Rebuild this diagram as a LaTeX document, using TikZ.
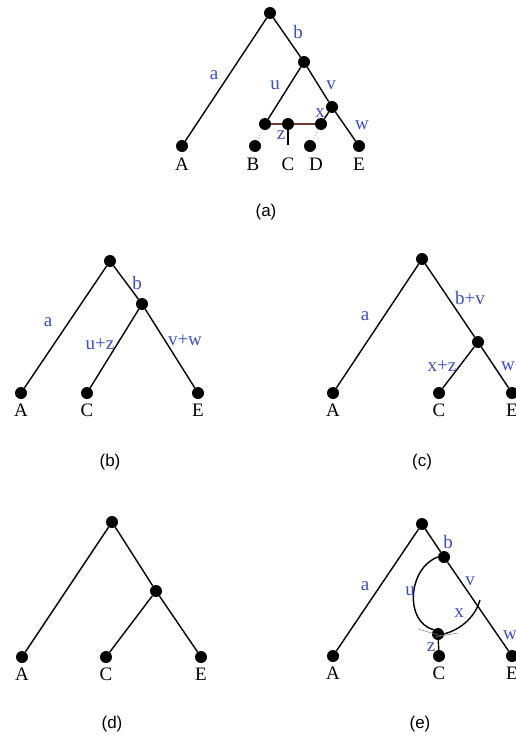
\documentclass[tikz,border=0pt]{standalone}
\usepackage{fontspec}
\setmainfont{Liberation Serif}
\setsansfont{Liberation Sans}
\usepackage{tikz}
\usetikzlibrary{positioning}
\definecolor{edgeblue}{HTML}{3C4EC4}
\definecolor{rust}{HTML}{6E3A2C}
\tikzset{
  dot/.style={circle, fill=black, inner sep=0pt, minimum size=12pt},
  branch/.style={line width=1.4pt, color=black},
  taxon/.style={font=\fontsize{19}{19}\selectfont, inner sep=0pt},
  elabel/.style={font=\fontsize{19}{19}\selectfont, color=edgeblue, inner sep=0pt},
  caption/.style={font=\sffamily\fontsize{17}{17}\selectfont, inner sep=0pt},
}

\begin{document}
\begin{tikzpicture}[x=1pt, y=-1pt]
  \useasboundingbox (0,0) rectangle (516,736);

  % (a) full tree
  \node[dot] (ra) at (270,13) {};
  \node[dot] (pa) at (304,62) {};
  \node[dot] (qa) at (332,107) {};
  \node[dot] (la) at (265,124) {};
  \node[dot] (ma) at (288,124) {};
  \node[dot] (ka) at (321,124) {};
  \node[dot] (Aa) at (182,146) {};
  \node[dot] (Ba) at (255,146) {};
  \coordinate (Ca) at (288,145);
  \node[dot] (Da) at (310,146) {};
  \node[dot] (Ea) at (359,146) {};
  \draw[branch] (ra) -- (Aa);
  \draw[branch] (ra) -- (pa);
  \draw[branch] (pa) -- (la);
  \draw[branch] (pa) -- (qa);
  \draw[branch] (qa) -- (Ea);
  \draw[branch] (qa) -- (ka);
  \draw[line width=1.4pt, rust] (la) -- (ma);
  \draw[line width=1.4pt, rust] (ma) -- (ka);
  \draw[branch] (ma) -- (Ca);
  \draw[gray!60, dotted, line width=1pt] (la) -- (Ba);
  \draw[gray!60, dotted, line width=1pt] (ka) -- (Da);
  \node[taxon] (tAa) at (182,164) {A};
  \node[taxon] (tBa) at (253,164) {B};
  \node[taxon] (tCa) at (288,164) {C};
  \node[taxon] (tDa) at (316,164) {D};
  \node[taxon] (tEa) at (359,164) {E};
  \node[elabel] (lba) at (298,32) {b};
  \node[elabel] (laa) at (214,75) {a};
  \node[elabel] (lua) at (275,85) {u};
  \node[elabel] (lva) at (331,85) {v};
  \node[elabel] (lxa) at (320,113) {x};
  \node[elabel] (lza) at (281,135) {z};
  \node[elabel] (lwa) at (362,125) {w};
  \node[caption] (capa) at (266,212) {(a)};

  % (b)
  \node[dot] (rb) at (110,261) {};
  \node[dot] (pb) at (142,304) {};
  \node[dot] (Ab) at (21,393) {};
  \node[dot] (Cb) at (87,393) {};
  \node[dot] (Eb) at (198,393) {};
  \draw[branch] (rb) -- (Ab);
  \draw[branch] (rb) -- (pb);
  \draw[branch] (pb) -- (Cb);
  \draw[branch] (pb) -- (Eb);
  \node[taxon, below=5pt of Ab] (tAb) {A};
  \node[taxon, below=5pt of Cb] (tCb) {C};
  \node[taxon, below=5pt of Eb] (tEb) {E};
  \node[elabel] (lbb) at (137,283) {b};
  \node[elabel] (lab) at (48,322) {a};
  \node[elabel] (luzb) at (100,344) {u+z};
  \node[elabel] (lvwb) at (185,340) {v+w};
  \node[caption] (capb) at (110,462) {(b)};

  % (c)
  \node[dot] (rc) at (422,259) {};
  \node[dot] (pc) at (478,342) {};
  \node[dot] (Ac) at (333,393) {};
  \node[dot] (Cc) at (439,393) {};
  \node[dot] (Ec) at (512,393) {};
  \draw[branch] (rc) -- (Ac);
  \draw[branch] (rc) -- (pc);
  \draw[branch] (pc) -- (Cc);
  \draw[branch] (pc) -- (Ec);
  \node[taxon, below=5pt of Ac] (tAc) {A};
  \node[taxon, below=5pt of Cc] (tCc) {C};
  \node[taxon, below=5pt of Ec] (tEc) {E};
  \node[elabel] (lac) at (365,316) {a};
  \node[elabel] (lbvc) at (470,298) {b+v};
  \node[elabel] (lxzc) at (442,366) {x+z};
  \node[elabel] (lwc) at (508,366) {w};
  \node[caption] (capc) at (422,462) {(c)};

  % (d)
  \node[dot] (rd) at (112,522) {};
  \node[dot] (pd) at (156,591) {};
  \node[dot] (Ad) at (22,657) {};
  \node[dot] (Cd) at (106,657) {};
  \node[dot] (Ed) at (201,657) {};
  \draw[branch] (rd) -- (Ad);
  \draw[branch] (rd) -- (pd);
  \draw[branch] (pd) -- (Cd);
  \draw[branch] (pd) -- (Ed);
  \node[taxon, below=5pt of Ad] (tAd) {A};
  \node[taxon, below=5pt of Cd] (tCd) {C};
  \node[taxon, below=5pt of Ed] (tEd) {E};
  \node[caption] (capd) at (112,724) {(d)};

  % (e) loop
  \node[dot] (re) at (422,524) {};
  \node[dot] (pe) at (444,557) {};
  \node[dot] (ke) at (438,634) {};
  \node[dot] (Ae) at (333,656) {};
  \node[dot] (Ce) at (439,656) {};
  \node[dot] (Ee) at (512,656) {};
  \coordinate (xe) at (480,600);
  \draw[branch] (re) -- (Ae);
  \draw[branch] (re) -- (pe);
  \draw[branch] (pe) -- (Ee);
  \draw[branch] (ke) -- (Ce);
  \draw[branch] (pe.west) .. controls (408,568) and (404,622) .. (ke.north west);
  \draw[branch] (ke.east) .. controls (458,630) and (474,620) .. (xe);
  \draw[gray, line width=0.5pt] (418,629) -- (442,636);
  \draw[gray, line width=0.5pt] (435,637) -- (458,633);
  \node[taxon, below=5pt of Ae] (tAe) {A};
  \node[taxon, below=5pt of Ce] (tCe) {C};
  \node[taxon, below=5pt of Ee] (tEe) {E};
  \node[elabel] (lbe) at (448,542) {b};
  \node[elabel] (lae) at (365,586) {a};
  \node[elabel] (lue) at (410,591) {u};
  \node[elabel] (lve) at (470,581) {v};
  \node[elabel] (lxe) at (459,613) {x};
  \node[elabel] (lze) at (431,647) {z};
  \node[elabel] (lwe) at (510,635) {w};
  \node[caption] (cape) at (420,724) {(e)};
\end{tikzpicture}
\end{document}
